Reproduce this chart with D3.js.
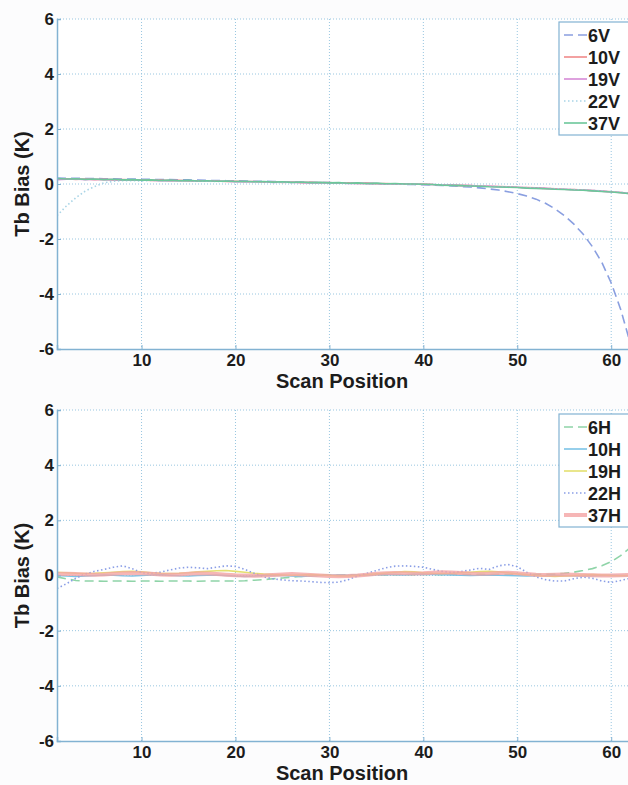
<!DOCTYPE html>
<html>
<head>
<meta charset="utf-8">
<script src="https://cdn.jsdelivr.net/npm/d3@7"></script>
<style>
  body { margin: 0; background: #fcfcfd; }
  svg { display: block; }
  text { font-family: "Liberation Sans", Arial, sans-serif; fill: #1c1c1c; }
</style>
</head>
<body>
<div id="chart"></div>
<script>
const width = 628;
const height = 785;

// scan positions (x)
const scanPos = [1,2,3,4,5,6,7,8,9,10,11,12,13,14,15,16,17,18,19,20,21,22,23,24,25,26,27,28,29,30,
  31,32,33,34,35,36,37,38,39,40,41,42,43,44,45,46,47,48,49,50,51,52,53,54,55,56,57,58,59,60,61,62];

const xTicks = [10, 20, 30, 40, 50, 60];
const yTicks = [-6, -4, -2, 0, 2, 4, 6];

// V-pol bias values (K)
const v6 = [0.22,0.21,0.21,0.20,0.20,0.19,0.19,0.18,0.18,0.17,
  0.17,0.16,0.16,0.15,0.15,0.14,0.13,0.13,0.12,0.12,
  0.11,0.10,0.10,0.09,0.08,0.08,0.07,0.06,0.05,0.05,
  0.04,0.03,0.03,0.02,0.01,0.00,0.00,-0.01,-0.02,-0.03,
  -0.04,-0.05,-0.07,-0.09,-0.11,-0.14,-0.18,-0.22,-0.28,-0.35,
  -0.44,-0.55,-0.70,-0.90,-1.15,-1.45,-1.82,-2.28,-2.85,-3.60,-4.55,-5.75];
const v10 = [0.18,0.19,0.17,0.18,0.16,0.17,0.15,0.16,0.14,0.15,
  0.13,0.14,0.12,0.13,0.11,0.12,0.10,0.11,0.09,0.10,
  0.08,0.09,0.07,0.08,0.06,0.07,0.05,0.06,0.04,0.05,
  0.03,0.04,0.02,0.03,0.01,0.02,0.00,0.01,-0.01,0.00,
  -0.02,-0.03,-0.04,-0.05,-0.06,-0.07,-0.08,-0.09,-0.10,-0.12,
  -0.13,-0.14,-0.16,-0.17,-0.19,-0.20,-0.22,-0.24,-0.26,-0.28,-0.31,-0.34];
const v19 = [0.16,0.17,0.18,0.16,0.17,0.16,0.16,0.14,0.15,0.14,
  0.14,0.12,0.13,0.12,0.12,0.10,0.11,0.10,0.10,0.08,
  0.09,0.08,0.08,0.06,0.07,0.06,0.06,0.04,0.05,0.04,
  0.04,0.02,0.03,0.02,0.02,0.00,0.01,0.00,0.00,-0.02,
  -0.02,-0.04,-0.04,-0.06,-0.06,-0.08,-0.08,-0.10,-0.11,-0.12,
  -0.14,-0.15,-0.16,-0.18,-0.19,-0.21,-0.22,-0.24,-0.26,-0.29,-0.31,-0.35];
const v22 = [-1.15,-0.80,-0.50,-0.26,-0.09,0.04,0.10,0.12,0.12,0.11,
  0.13,0.12,0.12,0.11,0.12,0.10,0.10,0.09,0.10,0.08,
  0.08,0.07,0.08,0.06,0.06,0.05,0.06,0.04,0.04,0.03,
  0.04,0.02,0.02,0.01,0.02,0.00,0.00,-0.01,0.00,-0.02,
  -0.03,-0.03,-0.05,-0.05,-0.07,-0.07,-0.09,-0.09,-0.11,-0.12,
  -0.13,-0.15,-0.16,-0.17,-0.19,-0.20,-0.22,-0.23,-0.25,-0.28,-0.30,-0.33];
const v37 = [0.20,0.18,0.19,0.17,0.18,0.16,0.17,0.15,0.16,0.14,
  0.15,0.13,0.14,0.12,0.13,0.11,0.12,0.10,0.11,0.09,
  0.10,0.08,0.09,0.07,0.08,0.06,0.07,0.05,0.06,0.04,
  0.05,0.03,0.04,0.02,0.03,0.01,0.02,0.00,0.00,-0.01,
  -0.02,-0.04,-0.05,-0.06,-0.07,-0.08,-0.10,-0.11,-0.12,-0.13,
  -0.15,-0.16,-0.17,-0.19,-0.20,-0.22,-0.23,-0.25,-0.27,-0.29,-0.32,-0.35];

// H-pol bias values (K)
const h6 = [-0.05,-0.12,-0.18,-0.20,-0.20,-0.21,-0.20,-0.20,-0.21,-0.20,
  -0.20,-0.21,-0.20,-0.20,-0.20,-0.21,-0.20,-0.20,-0.20,-0.20,
  -0.19,-0.17,-0.15,-0.12,-0.09,-0.06,-0.03,-0.01,0.01,0.02,
  0.02,0.03,0.02,0.03,0.03,0.02,0.03,0.04,0.03,0.04,
  0.04,0.03,0.04,0.04,0.03,0.04,0.03,0.04,0.03,0.03,
  0.03,0.04,0.04,0.05,0.08,0.12,0.18,0.25,0.35,0.50,0.72,1.00];
const h10 = [0.00,-0.02,-0.03,-0.02,0.00,0.02,0.01,-0.01,-0.02,0.00,
  0.02,0.03,0.01,-0.01,-0.02,0.00,0.01,0.02,0.00,-0.02,
  -0.03,-0.02,0.00,0.01,0.00,-0.02,-0.03,-0.02,0.00,0.01,
  0.02,0.01,0.00,0.02,0.03,0.04,0.03,0.02,0.04,0.05,
  0.04,0.03,0.02,0.01,0.00,0.01,0.02,0.01,0.00,-0.01,
  -0.02,-0.01,0.00,0.01,0.00,-0.01,-0.02,-0.01,0.00,0.01,0.00,-0.01];
const h19 = [0.12,0.10,0.08,0.07,0.08,0.10,0.12,0.14,0.15,0.13,
  0.10,0.08,0.07,0.08,0.10,0.13,0.15,0.17,0.18,0.15,
  0.12,0.08,0.05,0.03,0.02,0.01,0.02,0.03,0.02,0.00,
  -0.02,-0.02,0.00,0.03,0.06,0.09,0.12,0.14,0.13,0.10,
  0.08,0.07,0.08,0.10,0.12,0.14,0.15,0.13,0.10,0.06,
  0.03,0.00,-0.02,-0.03,-0.02,0.00,0.02,0.03,0.02,0.00,-0.01,0.00];
const h22 = [-0.47,-0.30,-0.10,0.05,0.15,0.22,0.30,0.35,0.25,0.10,
  0.08,0.12,0.20,0.27,0.30,0.28,0.25,0.30,0.35,0.33,
  0.22,0.08,-0.05,-0.12,-0.16,-0.19,-0.20,-0.22,-0.25,-0.26,
  -0.24,-0.15,-0.02,0.08,0.18,0.28,0.34,0.35,0.33,0.30,
  0.22,0.15,0.10,0.14,0.20,0.26,0.22,0.35,0.40,0.32,
  0.12,-0.05,-0.15,-0.20,-0.20,-0.12,-0.06,-0.10,-0.20,-0.25,-0.18,-0.10];
const h37 = [0.05,0.06,0.05,0.04,0.03,0.04,0.06,0.08,0.09,0.08,
  0.06,0.04,0.03,0.04,0.06,0.08,0.07,0.05,0.03,0.01,
  0.00,-0.01,0.00,0.02,0.04,0.05,0.04,0.02,0.00,-0.02,
  -0.03,-0.02,0.00,0.03,0.06,0.08,0.09,0.08,0.07,0.08,
  0.10,0.12,0.11,0.09,0.07,0.06,0.07,0.09,0.10,0.08,
  0.05,0.03,0.02,0.03,0.04,0.03,0.02,0.01,0.00,0.00,0.01,0.02];

const vNames = ["6V", "10V", "19V", "22V", "37V"];
const hNames = ["6H", "10H", "19H", "22H", "37H"];

// line styles for each channel
const vStyles = [
  {color: "#8a9fe0", dash: "9,5", w: 1.6},
  {color: "#f08a8a", dash: null, w: 1.6},
  {color: "#d68ad6", dash: null, w: 1.6},
  {color: "#a8d4e6", dash: "1.5,2.5", w: 1.6},
  {color: "#6cc79a", dash: null, w: 1.6}
];
const hStyles = [
  {color: "#8fd4a8", dash: "9,5", w: 1.6},
  {color: "#7cc3e6", dash: null, w: 1.6},
  {color: "#e4e070", dash: null, w: 1.6},
  {color: "#8a9ee6", dash: "1.5,2.5", w: 1.6},
  {color: "#f4a4a4", dash: null, w: 4, op: 0.8}
];

const axisColor = "#82b2d2";
const gridColor = "#98c6e0";

const svg = d3.select("#chart").append("svg")
  .attr("width", width)
  .attr("height", height);

svg.append("rect").attr("width", width).attr("height", height).attr("fill", "#fcfcfd");

const x = d3.scaleLinear().domain([1, 62]).range([57, 630]);

function drawPanel(top, bottom, series, names, styles, legendTop) {
  const y = d3.scaleLinear().domain([-6, 6]).range([bottom, top]);
  const g = svg.append("g");

  // plot background
  g.append("rect")
    .attr("x", x(1)).attr("y", top)
    .attr("width", width - x(1)).attr("height", bottom - top)
    .attr("fill", "#ffffff");

  // grid
  g.selectAll(".vgrid")
    .data(xTicks)
    .enter()
    .append("line")
    .attr("x1", d => x(d)).attr("x2", d => x(d))
    .attr("y1", top).attr("y2", bottom)
    .attr("stroke", gridColor).attr("stroke-width", 1)
    .attr("stroke-dasharray", "1,2");
  g.selectAll(".hgrid")
    .data(yTicks.filter(d => d > -6))
    .enter()
    .append("line")
    .attr("x1", x(1)).attr("x2", width)
    .attr("y1", d => y(d)).attr("y2", d => y(d))
    .attr("stroke", gridColor).attr("stroke-width", 1)
    .attr("stroke-dasharray", "1,2");

  // lines
  const clipId = "clip" + top;
  svg.append("clipPath").attr("id", clipId)
    .append("rect").attr("x", x(1)).attr("y", top).attr("width", width - x(1)).attr("height", bottom - top);

  const line = d3.line()
    .x((d, i) => x(scanPos[i]))
    .y(d => y(d));

  series.forEach((s, k) => {
    g.append("path")
      .datum(s)
      .attr("clip-path", "url(#" + clipId + ")")
      .attr("d", line)
      .attr("fill", "none")
      .attr("stroke", styles[k].color)
      .attr("stroke-width", styles[k].w)
      .attr("stroke-opacity", styles[k].op || 1)
      .attr("stroke-dasharray", styles[k].dash);
  });

  // axes
  const yAxis = g.append("g")
    .attr("transform", "translate(" + x(1) + ",0)")
    .call(d3.axisLeft(y).tickValues(yTicks).tickFormat(d => String(d)).tickSize(-4).tickPadding(3));
  const xAxis = g.append("g")
    .attr("transform", "translate(0," + bottom + ")")
    .call(d3.axisBottom(x).tickValues(xTicks).tickFormat(d => String(d)).tickSize(-4).tickPadding(5));

  [xAxis, yAxis].forEach(a => {
    a.select(".domain").attr("stroke", axisColor).attr("stroke-width", 1.5);
    a.selectAll(".tick line").attr("stroke", axisColor);
    a.selectAll(".tick text")
      .attr("font-size", 17)
      .attr("font-weight", "bold")
      .attr("font-family", "Liberation Sans, Arial, sans-serif")
      .attr("fill", "#1c1c1c");
  });

  // axis titles
  g.append("text")
    .attr("transform", "translate(29," + ((top + bottom) / 2) + ") rotate(-90)")
    .attr("text-anchor", "middle")
    .attr("font-size", 20)
    .attr("font-weight", "bold")
    .text("Tb Bias (K)");
  g.append("text")
    .attr("x", 342)
    .attr("y", bottom + 39)
    .attr("text-anchor", "middle")
    .attr("font-size", 20)
    .attr("font-weight", "bold")
    .text("Scan Position");

  // legend
  const lg = g.append("g").attr("transform", "translate(559," + legendTop + ")");
  lg.append("rect")
    .attr("x", 0).attr("y", 0)
    .attr("width", 71).attr("height", 113)
    .attr("fill", "#ffffff")
    .attr("stroke", axisColor).attr("stroke-width", 1.2);
  names.forEach((n, k) => {
    const ry = 13 + k * 22;
    lg.append("line")
      .attr("x1", 5).attr("x2", 28)
      .attr("y1", ry).attr("y2", ry)
      .attr("stroke", styles[k].color)
      .attr("stroke-width", styles[k].w)
      .attr("stroke-opacity", styles[k].op || 1)
      .attr("stroke-dasharray", styles[k].dash);
    lg.append("text")
      .attr("x", 29).attr("y", ry + 7)
      .attr("font-size", 18)
      .attr("font-weight", "bold")
      .text(n);
  });
}

drawPanel(19, 349, [v6, v10, v19, v22, v37], vNames, vStyles, 22);
drawPanel(410, 741, [h6, h10, h19, h22, h37], hNames, hStyles, 414);
</script>
</body>
</html>
